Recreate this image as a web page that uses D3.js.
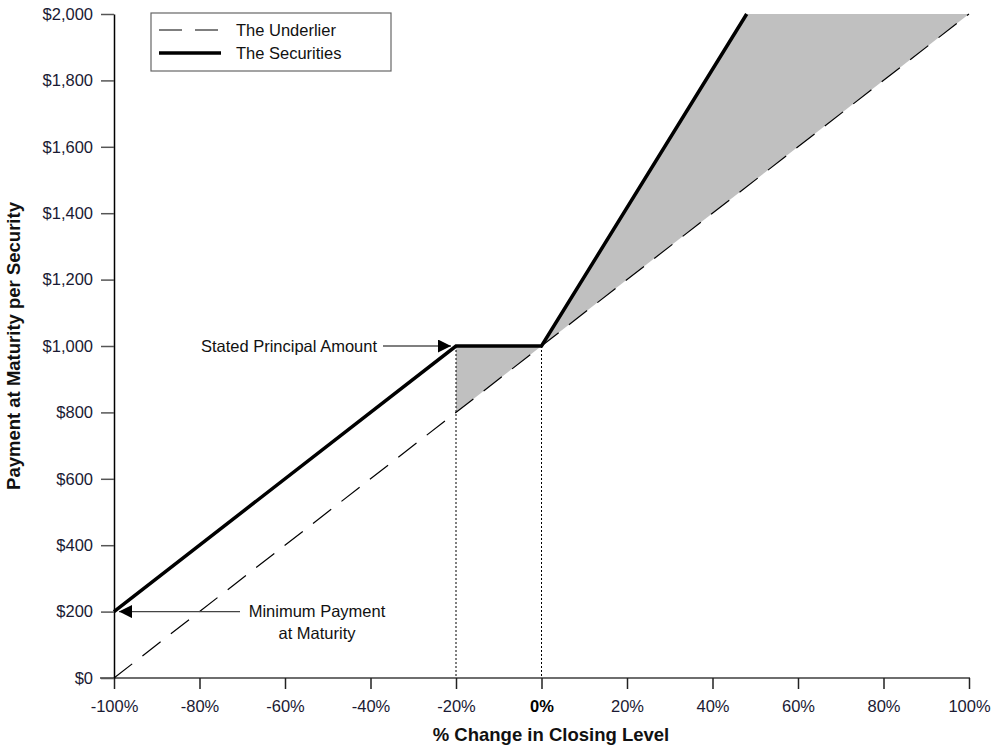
<!DOCTYPE html>
<html><head><meta charset="utf-8">
<script src="https://cdn.jsdelivr.net/npm/d3@7"></script>
<style>body{margin:0;background:#fff}svg{display:block}text{font-family:"Liberation Sans",Arial,sans-serif}</style>
</head><body>
<svg id="c" width="997" height="752"></svg>
<script>
const xTicks = [-100,-80,-60,-40,-20,0,20,40,60,80,100];
const yTicks = [0,200,400,600,800,1000,1200,1400,1600,1800,2000];
const underlierX = [-100, 100];
const underlierY = [0, 2000];
const securitiesX = [-100, -20, 0, 48];
const securitiesY = [200, 1000, 1000, 2000];
const shadeLowX = [-20, 0];
const shadeLowTop = [1000, 1000];
const shadeHighX = [0, 48, 100];
const shadeHighTop = [1000, 2000, 2000];
const principal = 1000, minPay = 200, bufferX = -20;

const FS = 16.5;
const svg = d3.select('#c');
const x = d3.scaleLinear().domain([-100,100]).range([114,969]);
const y = d3.scaleLinear().domain([0,2000]).range([678,14]);
const und = v => 1000 + v*10;

// shading
const area = d3.area().x(d=>x(d[0])).y0(d=>y(und(d[0]))).y1(d=>y(d[1]));
svg.append('path').attr('d', area(shadeLowX.map((v,i)=>[v,shadeLowTop[i]]))).attr('fill','#c0c0c0');
svg.append('path').attr('d', area(shadeHighX.map((v,i)=>[v,shadeHighTop[i]]))).attr('fill','#c0c0c0');

// dotted verticals
[bufferX, 0].forEach(v=>{
  svg.append('line').attr('x1',x(v)).attr('x2',x(v)).attr('y1',y(principal)).attr('y2',y(0))
    .attr('stroke','#000').attr('stroke-width',1).attr('stroke-dasharray','2,2');
});

// axes
const xa = svg.append('g').attr('transform',`translate(0,${y(0)})`)
  .call(d3.axisBottom(x).tickValues(xTicks).tickSize(11).tickSizeOuter(0).tickFormat(d=>d+'%'));
xa.select('.domain').attr('stroke','#6e6e6e').attr('stroke-width',2).attr('d',`M100,0H970`);
xa.selectAll('.tick line').attr('stroke','#222').attr('stroke-width',1.5);
xa.selectAll('.tick text').attr('font-size',FS).attr('y',22).attr('dy','0.71em')
  .attr('font-weight',d=>d===0?'bold':'normal').attr('fill',d=>d===0?'#000':'#1a1a33');

const ya = svg.append('g').attr('transform',`translate(${x(-100)},0)`)
  .call(d3.axisLeft(y).tickValues(yTicks).tickSize(13).tickSizeOuter(0).tickPadding(8)
    .tickFormat(d=>'$'+d3.format(',')(d)));
ya.select('.domain').attr('stroke','#000').attr('stroke-width',1.5);
ya.selectAll('.tick line').attr('stroke','#555').attr('stroke-width',1.5);
ya.selectAll('.tick text').attr('font-size',FS).attr('fill','#1a1a33');

// lines
const line = d3.line().x(d=>x(d[0])).y(d=>y(d[1]));
svg.append('path').attr('d', line(underlierX.map((v,i)=>[v,underlierY[i]])))
  .attr('fill','none').attr('stroke','#000').attr('stroke-width',1.2).attr('stroke-dasharray','23,13');
svg.append('path').attr('d', line(securitiesX.map((v,i)=>[v,securitiesY[i]])))
  .attr('fill','none').attr('stroke','#000').attr('stroke-width',3.5).attr('stroke-linejoin','miter');

// annotations
const defs = svg.append('defs');
defs.append('marker').attr('id','ah').attr('viewBox','0 0 10 10').attr('refX',10).attr('refY',5)
  .attr('markerWidth',22).attr('markerHeight',13).attr('markerUnits','userSpaceOnUse').attr('orient','auto')
  .append('path').attr('d','M0,0L10,5L0,10Z').attr('fill','#000');
svg.append('line').attr('x1',383).attr('x2',x(bufferX)-5).attr('y1',y(principal)).attr('y2',y(principal))
  .attr('stroke','#000').attr('stroke-width',1.2).attr('marker-end','url(#ah)');
svg.append('text').attr('x',377).attr('y',y(principal)+6).attr('text-anchor','end').attr('font-size',FS)
  .attr('fill','#111').text('Stated Principal Amount');
svg.append('line').attr('x1',240).attr('x2',x(-100)+5).attr('y1',y(minPay)).attr('y2',y(minPay))
  .attr('stroke','#444').attr('stroke-width',1.2).attr('marker-end','url(#ah)');
svg.append('text').attr('x',317).attr('y',y(minPay)+5).attr('text-anchor','middle').attr('font-size',FS)
  .attr('fill','#111').text('Minimum Payment');
svg.append('text').attr('x',317).attr('y',y(minPay)+27).attr('text-anchor','middle').attr('font-size',FS)
  .attr('fill','#111').text('at Maturity');

// axis titles
svg.append('text').attr('x',551).attr('y',741).attr('text-anchor','middle').attr('font-size',18.5)
  .attr('font-weight','bold').attr('fill','#111').text('% Change in Closing Level');
svg.append('text').attr('transform',`translate(20,${(y(0)+y(2000))/2}) rotate(-90)`).attr('text-anchor','middle')
  .attr('font-size',18.5).attr('font-weight','bold').attr('fill','#111').text('Payment at Maturity per Security');

// legend
const lg = svg.append('g');
lg.append('rect').attr('x',151).attr('y',13).attr('width',240).attr('height',58)
  .attr('fill','#fff').attr('stroke','#666').attr('stroke-width',1.2);
lg.append('line').attr('x1',159).attr('x2',219).attr('y1',30).attr('y2',30)
  .attr('stroke','#000').attr('stroke-width',1.2).attr('stroke-dasharray','23,13');
lg.append('line').attr('x1',159).attr('x2',221).attr('y1',53).attr('y2',53)
  .attr('stroke','#000').attr('stroke-width',3.5);
lg.append('text').attr('x',236).attr('y',36).attr('font-size',FS).attr('fill','#111').text('The Underlier');
lg.append('text').attr('x',236).attr('y',59).attr('font-size',FS).attr('fill','#111').text('The Securities');
</script>
</body></html>
